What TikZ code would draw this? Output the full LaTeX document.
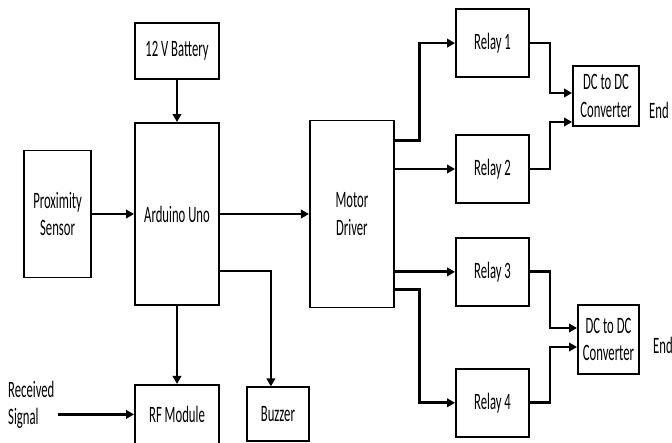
\documentclass[tikz,border=0pt]{standalone}
\usepackage{fontspec}
\setmainfont[FakeStretch=0.54]{Carlito}
\usetikzlibrary{positioning, arrows.meta}

\begin{document}
\begin{tikzpicture}[
        x=1pt, y=-1pt,
        inner sep=0pt,
        every node/.style={font=\fontsize{23.5}{27.5}\selectfont},
        block/.style={draw, rectangle, line width=1.9pt, align=center},
        relay/.style={block, minimum width=73pt, minimum height=68pt},
        arrow/.style={-{Triangle[length=8pt, width=8.5pt]}, line width=2.8pt}
    ]
    \useasboundingbox (0,0) rectangle (672,443);

    \node[block, minimum width=84pt, minimum height=182pt] (Arduino) at (177,214) {Arduino Uno};
    \node[block, minimum width=84pt, minimum height=56pt, above=42pt of Arduino] (Battery) {12 V Battery};
    \node[block, minimum width=67pt, minimum height=127pt, left=42pt of Arduino] (Prox) {Proximity\\Sensor};
    \node[block, minimum width=84pt, minimum height=187pt, right=89pt of Arduino] (Motor) {Motor\\Driver};
    \node[block, minimum width=84pt, minimum height=59pt, below=78pt of Arduino] (RF) {RF Module};
    \node[block, minimum width=62pt, minimum height=54pt, right=26pt of RF] (Buzzer) {Buzzer};
    \node[anchor=west, align=left] (Signal) at (8,405) {Received\\Signal};

    \node[relay] (Relay2) at (492.5,169) {Relay 2};
    \node[relay, above=56pt of Relay2] (Relay1) {Relay 1};
    \node[relay, below=33pt of Relay2] (Relay3) {Relay 3};
    \node[relay, below=61pt of Relay3] (Relay4) {Relay 4};

    \node[block, minimum width=66pt, minimum height=60pt] (Conv1) at (606,96) {DC to DC\\Converter};
    \node[block, minimum width=61pt, minimum height=69pt] (Conv2) at (608.5,339.5) {DC to DC\\Converter};
    \node[anchor=west] (End1) at (649,110) {End};
    \node[anchor=west] (End2) at (653,345) {End};

    \draw[arrow] (Battery) -- (Arduino);
    \draw[arrow] (Prox.east) -- (Prox.east -| Arduino.west);
    \draw[arrow] (Arduino.east) -- (Arduino.east -| Motor.west);
    \draw[arrow] (Arduino) -- (RF);
    \draw[arrow] ([yshift=35pt]Arduino.south east) -| ([xshift=-7pt]Buzzer.north);
    \draw[arrow] (Signal.east |- RF.west) ++(3,0) -- (RF.west);

    \draw[arrow] ([yshift=-21pt]Motor.north east) -- ++(25,0) |- (Relay1.west);
    \draw[arrow] (Motor.east |- Relay2.west) -- (Relay2.west);
    \draw[arrow] (Motor.east |- Relay3.west) -- (Relay3.west);
    \draw[arrow] ([yshift=19pt]Motor.south east) -- ++(25,0) |- (Relay4.west);

    \draw[arrow] (Relay1.east) -- ++(20,0) |- ([yshift=3pt]Conv1.west);
    \draw[arrow] (Relay2.east) -- ++(20,0) |- ([yshift=-26pt]Conv1.west);
    \draw[arrow] (Relay3.east) -- ++(20,0) |- ([yshift=11.5pt]Conv2.west);
    \draw[arrow] (Relay4.east) -- ++(20,0) |- ([yshift=-7.5pt]Conv2.west);

\end{tikzpicture}
\end{document}
